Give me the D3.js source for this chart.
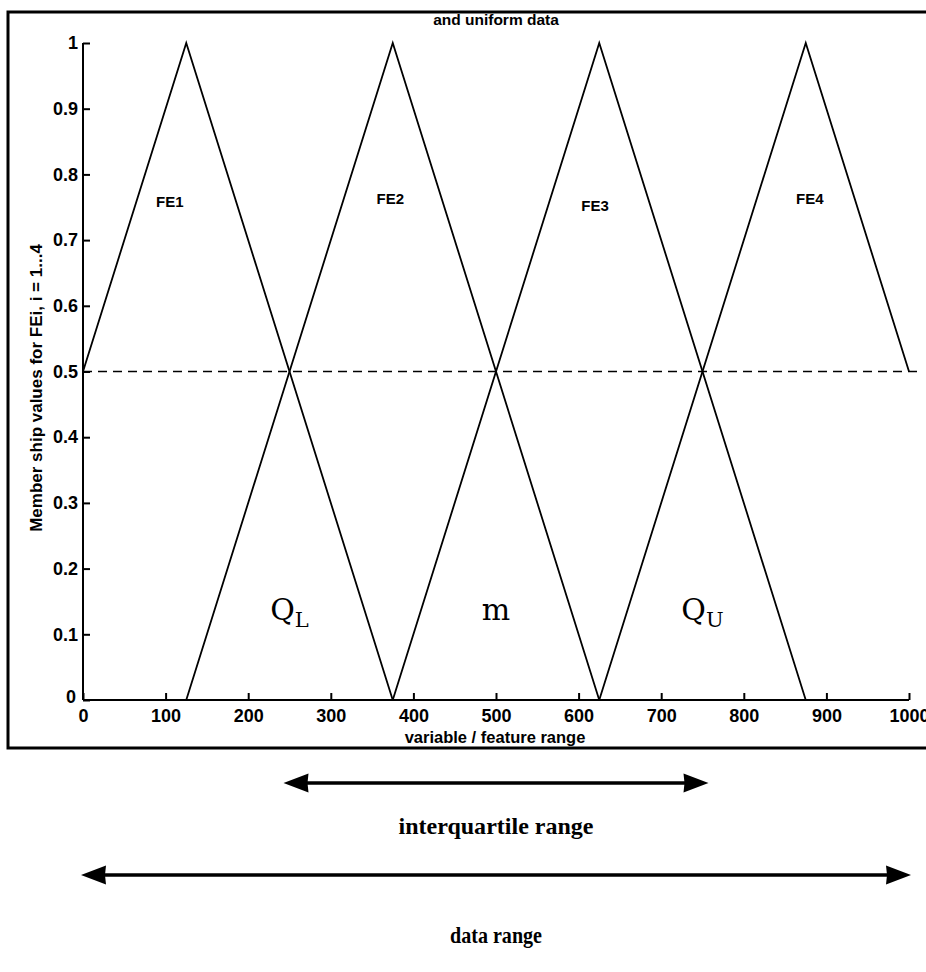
<!DOCTYPE html>
<html>
<head>
<meta charset="utf-8">
<script src="https://cdn.jsdelivr.net/npm/d3@7"></script>
<style>
  html, body { margin: 0; padding: 0; background: #fff; }
  svg { display: block; }
</style>
</head>
<body>
<svg id="chart" width="926" height="972"></svg>
<script>
// Fuzzy sets FE1..FE4 over the variable range, with quartile markers
const setNames = ["FE1", "FE2", "FE3", "FE4"];
const setX = [
  [0, 125, 375],
  [125, 375, 625],
  [375, 625, 875],
  [625, 875, 1000]
];
const setY = [
  [0.5, 1, 0],
  [0, 1, 0],
  [0, 1, 0],
  [0, 1, 0.5]
];
const setLabelX = [105, 372, 620, 880];
const setLabelY = [0.75, 0.755, 0.745, 0.755];

const crossLevel = 0.5;
const crossExtent = [0, 1000];

const quartileNames = ["Q", "m", "Q"];
const quartileSubs = ["L", "", "U"];
const quartileX = [250, 500, 750];
const quartileLabelY = 0.122;

const xTicks = [0, 100, 200, 300, 400, 500, 600, 700, 800, 900, 1000];
const yTicks = [0, 0.1, 0.2, 0.3, 0.4, 0.5, 0.6, 0.7, 0.8, 0.9, 1];

const rangeNames = ["interquartile range", "data range"];
const rangeFrom = [250, 0];
const rangeTo = [750, 1000];

const titleText = "and uniform data";
const xTitle = "variable / feature range";
const yTitle = "Member ship values for FEi, i = 1...4";

// ---- layout
const svg = d3.select("#chart");
const x = d3.scaleLinear().domain([0, 1000]).range([83, 909]);
const y = d3.scaleLinear().domain([0, 1]).range([700, 43]);

const sans = "'Liberation Sans', Arial, Helvetica, sans-serif";
const slab = "'DejaVu Serif', 'Courier New', serif";
const serif = "'Liberation Serif', 'Times New Roman', serif";

// outer frame (runs off the right edge)
svg.append("path")
  .attr("d", "M940,12 H8 V748 H940")
  .attr("fill", "none").attr("stroke", "#000").attr("stroke-width", 3);

svg.append("text")
  .attr("x", 496).attr("y", 25)
  .attr("text-anchor", "middle")
  .attr("font-family", sans).attr("font-weight", "bold").attr("font-size", 15.5)
  .text(titleText);

// axes with inward ticks
const xAxis = d3.axisBottom(x).tickValues(xTicks).tickSize(-7).tickPadding(12)
  .tickFormat(d3.format("d"));
const gx = svg.append("g").attr("transform", `translate(0,${y(0)})`).call(xAxis);
const yAxis = d3.axisLeft(y).tickValues(yTicks).tickSize(-7).tickPadding(5)
  .tickFormat(d => d === 0 || d === 1 ? d3.format("d")(d) : d3.format(".1f")(d));
const gy = svg.append("g").attr("transform", `translate(${x(0)},0)`).call(yAxis);

[gx, gy].forEach(g => {
  g.select(".domain").attr("stroke", "#000").attr("stroke-width", 2);
  g.selectAll(".tick line").attr("stroke", "#000").attr("stroke-width", 2);
  g.selectAll(".tick text")
    .attr("fill", "#000")
    .attr("font-family", sans).attr("font-weight", "bold").attr("font-size", 18);
});
// x-axis "0" sits just under the corner, y-axis "0" a bit left of it
gx.selectAll(".tick text").attr("dy", "0.55em");
gy.selectAll(".tick").filter(d => d === 0).select("text").attr("dy", "0.15em").attr("x", -7);
gx.select(".domain").attr("d", `M${x(0)},0H${x(1000)}`);
gy.select(".domain").attr("d", `M0,${y(0)}V${y(1)}`);

svg.append("text")
  .attr("x", 495).attr("y", 743)
  .attr("text-anchor", "middle")
  .attr("font-family", sans).attr("font-weight", "bold").attr("font-size", 16.5)
  .text(xTitle);

svg.append("text")
  .attr("transform", `translate(42,388) rotate(-90)`)
  .attr("text-anchor", "middle")
  .attr("font-family", sans).attr("font-weight", "bold").attr("font-size", 17)
  .text(yTitle);

// dashed crossing level
svg.append("line")
  .attr("x1", x(crossExtent[0])).attr("x2", x(crossExtent[1]) + 10)
  .attr("y1", y(crossLevel)).attr("y2", y(crossLevel))
  .attr("stroke", "#000").attr("stroke-width", 1.6)
  .attr("stroke-dasharray", "9,6");

// membership triangles
const line = d3.line().x(d => x(d[0])).y(d => y(d[1]));
setNames.forEach((name, i) => {
  const pts = setX[i].map((v, j) => [v, setY[i][j]]);
  svg.append("path")
    .attr("d", line(pts))
    .attr("fill", "none").attr("stroke", "#000").attr("stroke-width", 1.8)
    .attr("stroke-linejoin", "miter");
  svg.append("text")
    .attr("x", x(setLabelX[i])).attr("y", y(setLabelY[i]))
    .attr("text-anchor", "middle")
    .attr("font-family", sans).attr("font-weight", "bold").attr("font-size", 15)
    .text(name);
});

// quartile / median markers
quartileNames.forEach((name, i) => {
  const t = svg.append("text")
    .attr("x", x(quartileX[i])).attr("y", y(quartileLabelY))
    .attr("text-anchor", "middle")
    .attr("font-family", slab).attr("font-size", 30);
  t.append("tspan").text(name);
  if (quartileSubs[i]) {
    t.append("tspan").attr("font-size", 21).attr("dy", 7).text(quartileSubs[i]);
  }
});

// range arrows below the plot
const arrowY = [783, 875];
const arrowExt = [6, 2];
const textY = [834, 943];
const textLen = [195, 92];
rangeNames.forEach((name, i) => {
  const a = x(rangeFrom[i]) - arrowExt[i], b = x(rangeTo[i]) + arrowExt[i], yy = arrowY[i];
  const head = 25, half = 9.5;
  svg.append("line")
    .attr("x1", a + head - 2).attr("x2", b - head + 2)
    .attr("y1", yy).attr("y2", yy)
    .attr("stroke", "#000").attr("stroke-width", 3.5);
  svg.append("path")
    .attr("d", `M${a},${yy} L${a + head},${yy - half} L${a + head - 1},${yy} L${a + head},${yy + half} Z`)
    .attr("fill", "#000");
  svg.append("path")
    .attr("d", `M${b},${yy} L${b - head},${yy - half} L${b - head + 1},${yy} L${b - head},${yy + half} Z`)
    .attr("fill", "#000");
  svg.append("text")
    .attr("x", 496).attr("y", textY[i])
    .attr("text-anchor", "middle")
    .attr("font-family", serif).attr("font-weight", "bold").attr("font-size", 23)
    .attr("textLength", textLen[i]).attr("lengthAdjust", "spacingAndGlyphs")
    .text(name);
});
</script>
</body>
</html>
